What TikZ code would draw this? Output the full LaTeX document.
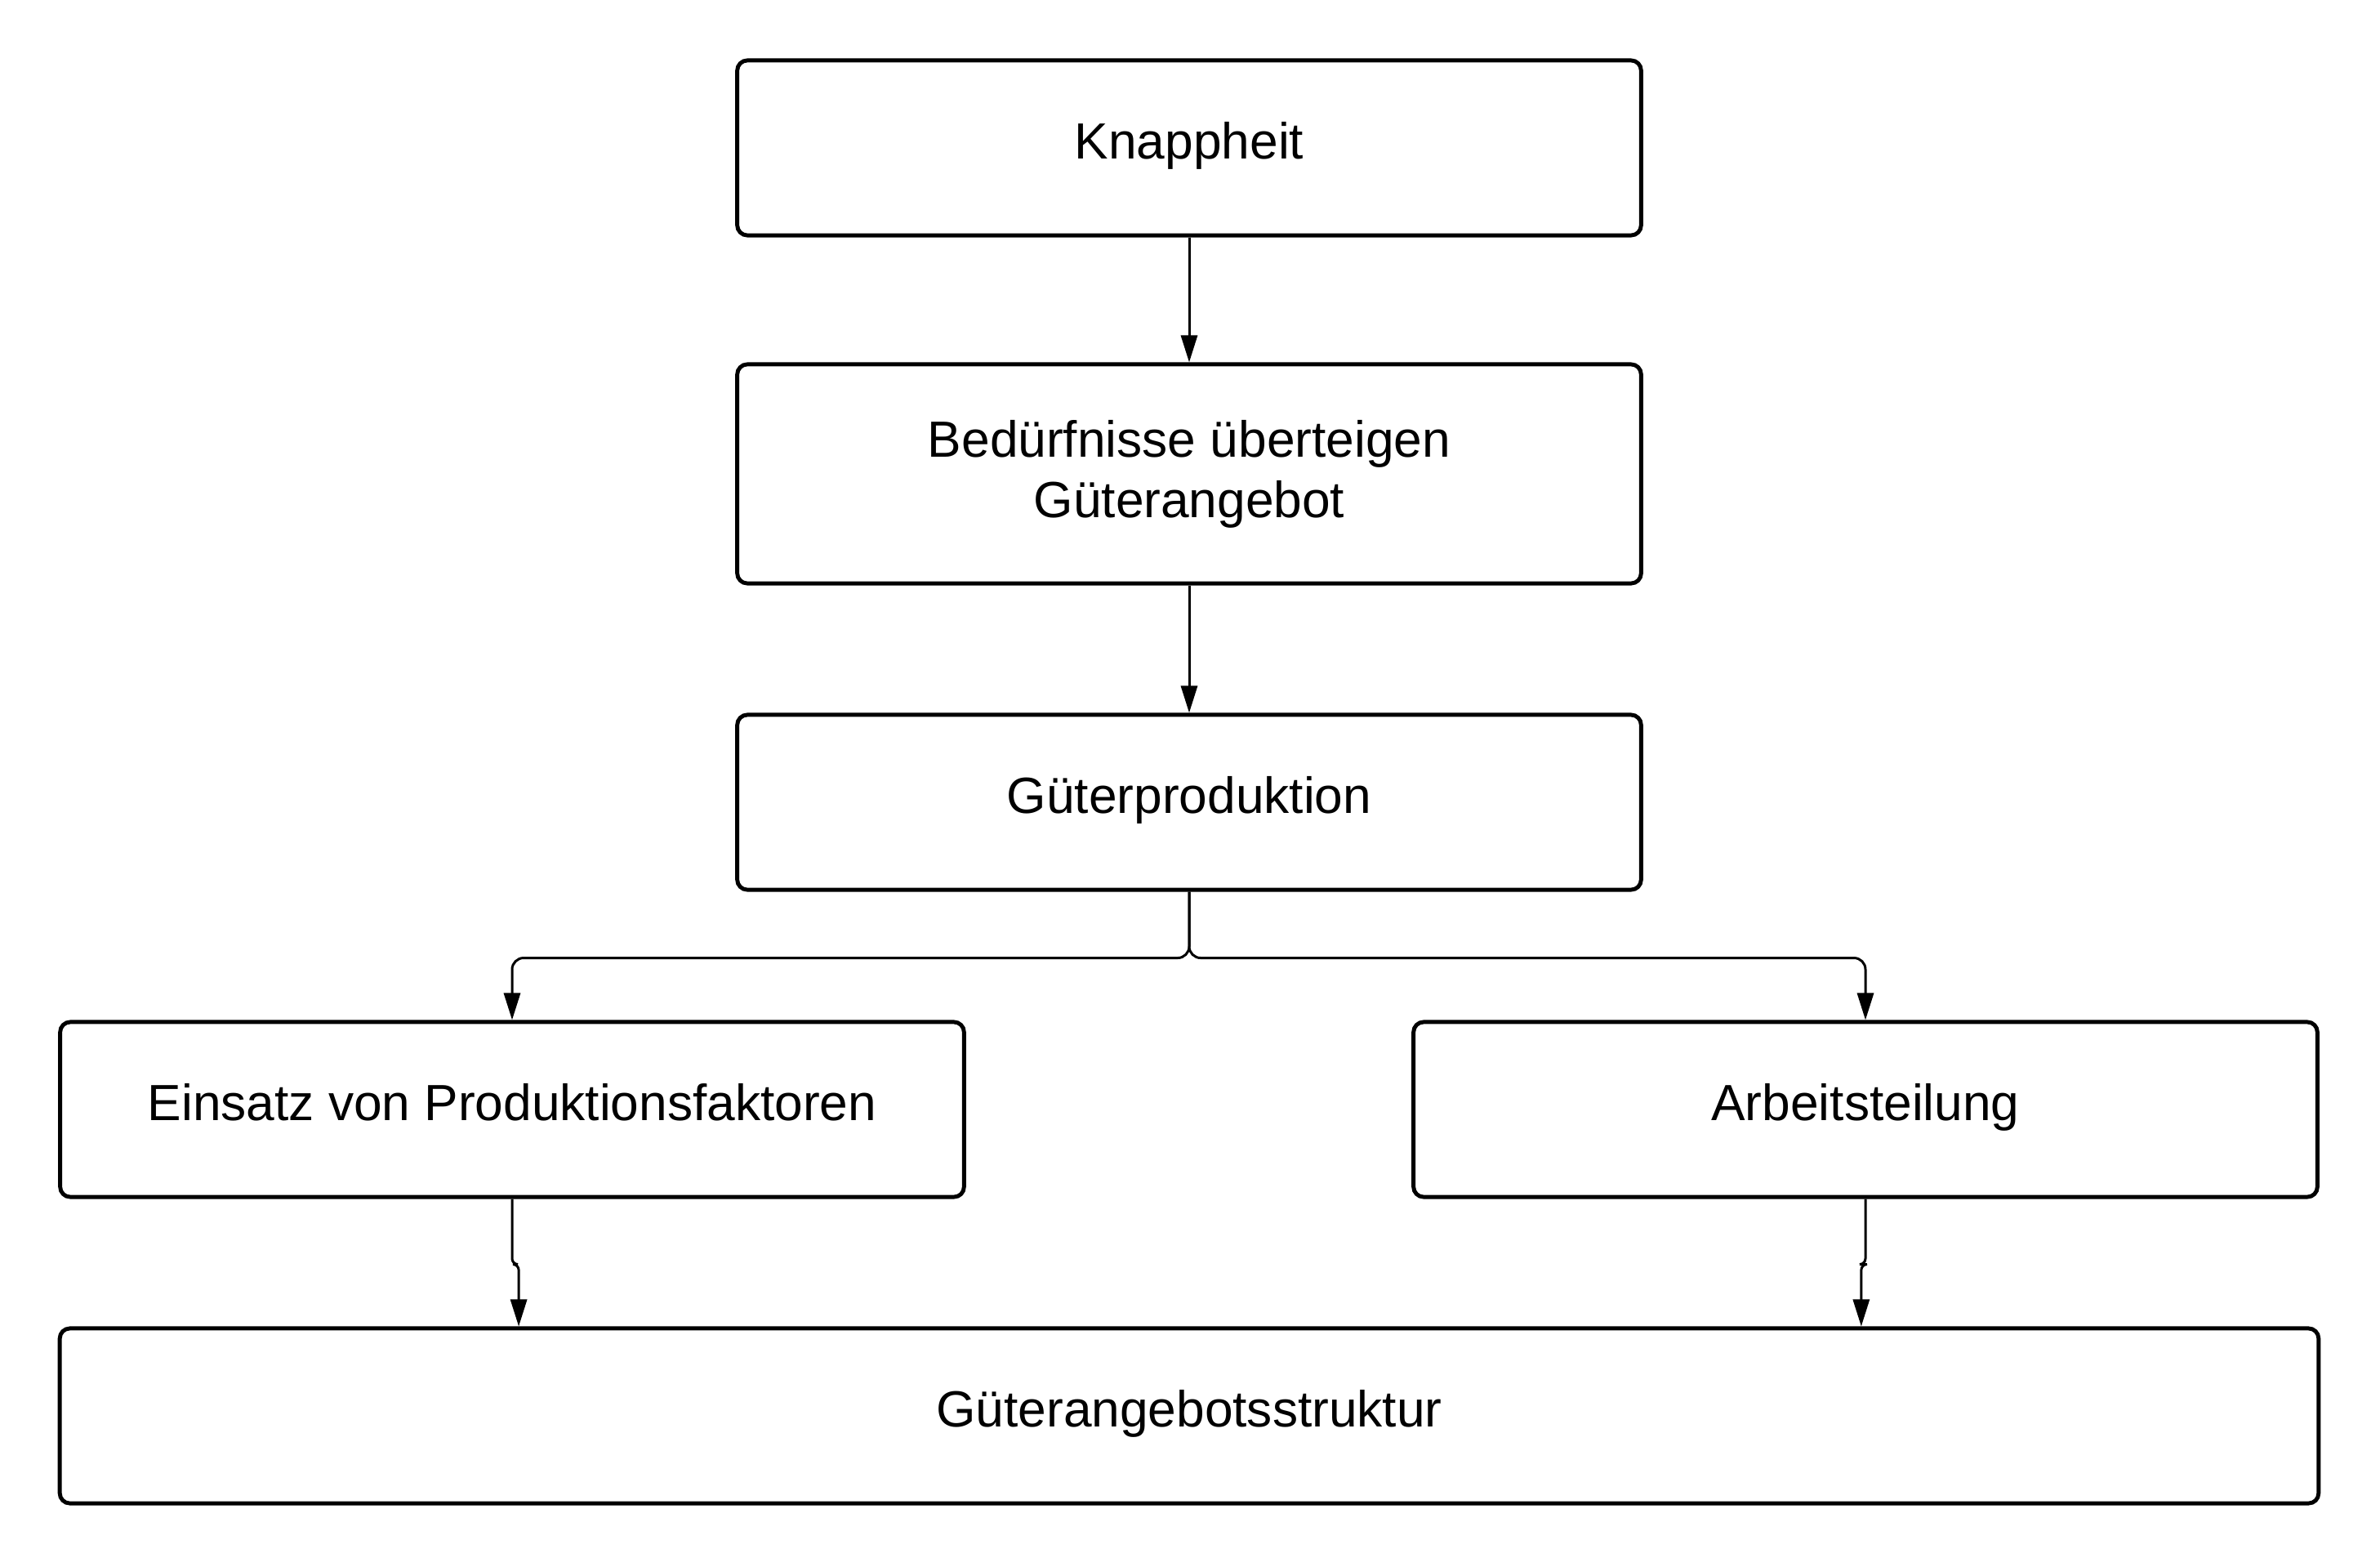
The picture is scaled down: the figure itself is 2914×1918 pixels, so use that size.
\documentclass[tikz,border=0pt]{standalone}
\usepackage{fontspec}
\setmainfont{Liberation Sans}
\usetikzlibrary{arrows.meta,calc}
\begin{document}
\begin{tikzpicture}[x=0.01cm,y=-0.01cm,
    every node/.style = {shape=rectangle,draw,line width=1.4pt,rounded corners=3.5pt,
        minimum width=11.06cm,minimum height=2.14cm,align=center,
        text height=12pt,text depth=4.2pt,
        font=\fontsize{17.7}{21}\selectfont},
    conn/.style = {draw,line width=0.85pt,-{Triangle[length=0.33cm,width=0.2cm]}}]
    \useasboundingbox (0,0) rectangle (2914,1918);
    \node (knapp) at (1456,181) {Knappheit};
    \node[minimum height=2.68cm,text height=,text depth=] (beduerf) at (1456,580) {Bedürfnisse überteigen\\Güterangebot};
    \node (gprod) at (1456,982) {Güterproduktion};
    \node (einsatz) at (627,1358) {Einsatz von Produktionsfaktoren};
    \node (arbeit) at (2284,1358) {Arbeitsteilung};
    \node[minimum width=27.64cm] (struktur) at (1456,1733) {Güterangebotsstruktur};
    \coordinate (inL) at ($(struktur.north west)!0.2037!(struktur.north east)$);
    \coordinate (inR) at ($(struktur.north west)!0.797!(struktur.north east)$);
    \draw[conn] (knapp) -- (beduerf);
    \draw[conn] (beduerf) -- (gprod);
    \draw[conn,rounded corners=4pt] (gprod.south) -- ++(0,81) -| (einsatz.north);
    \draw[conn,rounded corners=4pt] (gprod.south) -- ++(0,81) -| (arbeit.north);
    \draw[conn,rounded corners=2pt] (einsatz.south) -- ++(0,80) -| (inL);
    \draw[conn,rounded corners=2pt] (arbeit.south) -- ++(0,80) -| (inR);
\end{tikzpicture}
\end{document}
